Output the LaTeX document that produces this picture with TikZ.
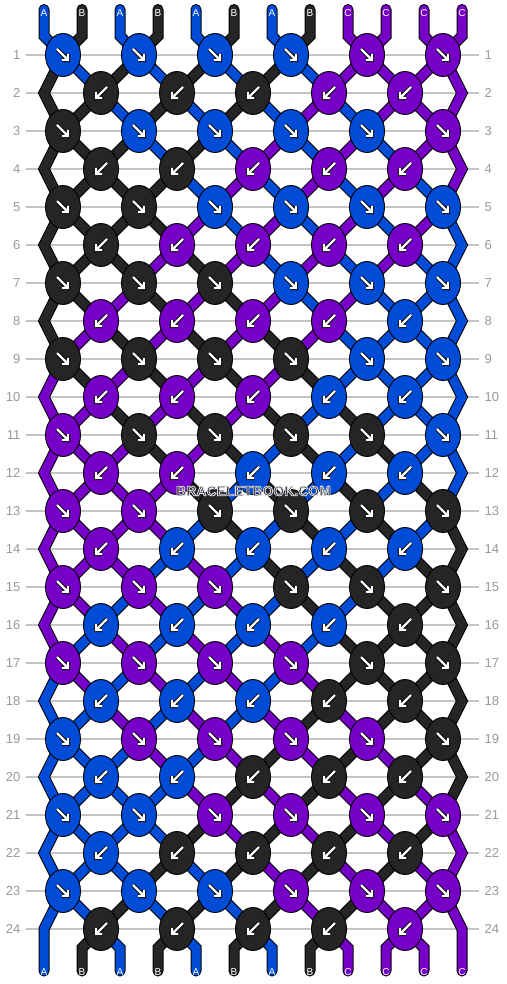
\documentclass[tikz,border=0pt]{standalone}
\usepackage{fontspec}
\setmainfont{Liberation Sans}
\usetikzlibrary{shapes.geometric}
\definecolor{cU}{HTML}{004CD6}
\definecolor{cK}{HTML}{252525}
\definecolor{cP}{HTML}{7700C8}
\definecolor{gridgray}{HTML}{C4C4C4}
\definecolor{numgray}{HTML}{999999}
\definecolor{wmtext}{HTML}{2E2E2E}
\pgfdeclarelayer{lines}
\pgfdeclarelayer{strands}
\pgfsetlayers{lines,strands,main}
\newcommand\haloText[1]{\special{pdf:literal direct q 2 Tr 0.8 w 0.9 0.9 0.93 RG}#1\special{pdf:literal direct 0 Tr Q}}
\tikzset{
  knot/.style={ellipse, draw=black, line width=0.9pt, minimum width=35pt, minimum height=43pt, inner sep=0pt},
  strand/.style={draw=#1, line width=9pt, line cap=round, line join=miter,
    preaction={draw=black, line width=11pt, line cap=round, line join=miter}},
  arrowbk/.style={draw=black, line width=4.2pt, line cap=butt, line join=miter},
  arrowfg/.style={draw=white, line width=2.4pt, line cap=butt, line join=miter},
  arrowse/.pic={
    \draw[arrowbk] (-6,-6) -- (5,5) (5,-1) -- (5,5) -- (-1,5);
    \draw[arrowfg] (-6,-6) -- (5,5) (5,-1) -- (5,5) -- (-1,5);
  },
  arrowsw/.pic={
    \draw[arrowbk] (6,-6) -- (-5,5) (-5,-1) -- (-5,5) -- (1,5);
    \draw[arrowfg] (6,-6) -- (-5,5) (-5,-1) -- (-5,5) -- (1,5);
  },
  rowline/.style={draw=gridgray, line width=1.1pt},
  rowlbl/.style={text=numgray, font=\fontsize{13}{13}\selectfont, inner sep=0pt},
  endlbl/.style={text=white, font=\fontsize{10}{10}\selectfont, inner sep=0pt},
  wmark/.style={text=wmtext, font=\bfseries\fontsize{14}{14}\selectfont, inner sep=0pt},
}
\newcommand\knotrow[3]{%
  \foreach \c [count=\j] in {#3} {%
    \pgfmathtruncatemacro\h{ifthenelse(mod(#1,2)==1,4*\j-1,4*\j+1)}%
    \node[knot, fill=\c] (n-#1-\h) at ({6+19*\h},{55+38*(#1-1)}) {};
    \pic at (n-#1-\h.center) {#2};
  }%
  \ifodd#1\else
    \coordinate (n-#1-2) at (44,{55+38*(#1-1)});
    \coordinate (n-#1-24) at (462,{55+38*(#1-1)});
  \fi
}
\begin{document}
\begin{tikzpicture}[x=1pt,y=-1pt]
\useasboundingbox (0,0) rectangle (506,984);
\begin{pgfonlayer}{lines}
  \fill[white] (0,0) rectangle (506,984);
  \foreach \r in {1,...,24} {
    \draw[rowline] (26,{55+38*(\r-1)}) -- (479,{55+38*(\r-1)});
  }
\end{pgfonlayer}
% row numbers
\foreach \r in {1,...,24} {
  \node[rowlbl, anchor=east] (rl-\r) at (20.5,{55+38*(\r-1)}) {\r};
  \node[rowlbl, anchor=west] (rr-\r) at (484.5,{55+38*(\r-1)}) {\r};
}
% knots
\knotrow{1}{arrowse}{cU,cU,cU,cU,cP,cP}
\knotrow{2}{arrowsw}{cK,cK,cK,cP,cP}
\knotrow{3}{arrowse}{cK,cU,cU,cU,cU,cP}
\knotrow{4}{arrowsw}{cK,cK,cP,cP,cP}
\knotrow{5}{arrowse}{cK,cK,cU,cU,cU,cU}
\knotrow{6}{arrowsw}{cK,cP,cP,cP,cP}
\knotrow{7}{arrowse}{cK,cK,cK,cU,cU,cU}
\knotrow{8}{arrowsw}{cP,cP,cP,cP,cU}
\knotrow{9}{arrowse}{cK,cK,cK,cK,cU,cU}
\knotrow{10}{arrowsw}{cP,cP,cP,cU,cU}
\knotrow{11}{arrowse}{cP,cK,cK,cK,cK,cU}
\knotrow{12}{arrowsw}{cP,cP,cU,cU,cU}
\knotrow{13}{arrowse}{cP,cP,cK,cK,cK,cK}
\knotrow{14}{arrowsw}{cP,cU,cU,cU,cU}
\knotrow{15}{arrowse}{cP,cP,cP,cK,cK,cK}
\knotrow{16}{arrowsw}{cU,cU,cU,cU,cK}
\knotrow{17}{arrowse}{cP,cP,cP,cP,cK,cK}
\knotrow{18}{arrowsw}{cU,cU,cU,cK,cK}
\knotrow{19}{arrowse}{cU,cP,cP,cP,cP,cK}
\knotrow{20}{arrowsw}{cU,cU,cK,cK,cK}
\knotrow{21}{arrowse}{cU,cU,cP,cP,cP,cP}
\knotrow{22}{arrowsw}{cU,cK,cK,cK,cK}
\knotrow{23}{arrowse}{cU,cU,cU,cP,cP,cP}
\knotrow{24}{arrowsw}{cK,cK,cK,cK,cP}
% string ends and labels
\foreach \s/\lab in {1/A,2/B,3/A,4/B,5/A,6/B,7/A,8/B,9/C,10/C,11/C,12/C} {
  \coordinate (top-\s) at ({44+38*(\s-1)},9.5);
  \coordinate (tb-\s) at ({44+38*(\s-1)},36);
  \coordinate (bb-\s) at ({44+38*(\s-1)},948);
  \coordinate (bot-\s) at ({44+38*(\s-1)},971);
  \node[endlbl] (lt-\s) at ({44+38*(\s-1)},13) {\lab};
  \node[endlbl] (lb-\s) at ({44+38*(\s-1)},972) {\lab};
}
% strings
\begin{pgfonlayer}{strands}
\foreach \s/\col in {1/cU,2/cK,3/cU,4/cK,5/cU,6/cK,7/cU,8/cK,9/cP,10/cP,11/cP,12/cP} {
  \pgfmathtruncatemacro\uz{ifthenelse(mod(\s,2)==1,\s-1,24-\s)}
  \draw[strand=\col] (top-\s.center) -- (tb-\s.center)
    \foreach \r [evaluate={\r as \h using int(min(mod(\uz+\r-1,24)+1,24-mod(\uz+\r-1,24))+min(mod(\uz+\r,24)+1,24-mod(\uz+\r,24)))}] in {1,...,24} { -- (n-\r-\h.center) }
    -- (bb-\s.center) -- (bot-\s.center);
}
\end{pgfonlayer}
% watermark
\node[wmark] (wm) at (253.5,491) {\haloText{BRACELETBOOK.COM}};
\end{tikzpicture}
\end{document}
